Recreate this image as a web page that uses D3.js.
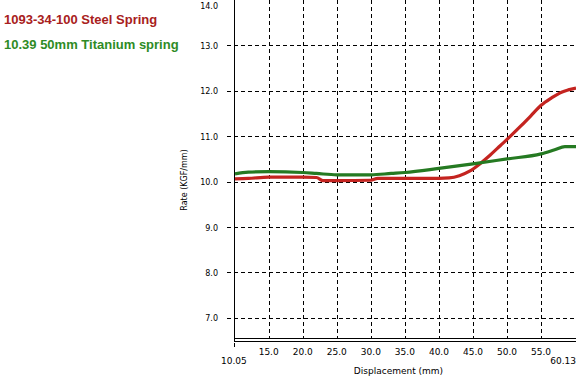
<!DOCTYPE html>
<html>
<head>
<meta charset="utf-8">
<script src="https://cdn.jsdelivr.net/npm/d3@7"></script>
<style>
  body { margin: 0; background: #fff; }
  svg { display: block; }
</style>
</head>
<body>
<div id="chart"></div>
<script>
// series values (displacement mm, rate KGF/mm)
const steelX = [10.05, 12, 15, 20, 22, 23, 25, 30, 31, 35, 40, 41.5, 43, 44.5, 46, 47.5, 49, 50.5, 52, 53.5, 55, 56.5, 58, 59, 60.13];
const steelY = [10.06, 10.07, 10.1, 10.1, 10.09, 10.02, 10.02, 10.03, 10.07, 10.07, 10.07, 10.08, 10.13, 10.23, 10.39, 10.58, 10.79, 11.0, 11.22, 11.45, 11.68, 11.84, 11.97, 12.02, 12.06];
const titanX = [10.05, 12, 15, 20, 22, 25, 30, 33, 35, 40, 45, 50, 55, 57, 58.5, 60.13];
const titanY = [10.17, 10.21, 10.22, 10.2, 10.18, 10.15, 10.15, 10.18, 10.2, 10.29, 10.39, 10.5, 10.61, 10.7, 10.77, 10.77];
const seriesNames = ['1093-34-100 Steel Spring', '10.39 50mm Titanium spring'];
const xTicks = [15, 20, 25, 30, 35, 40, 45, 50, 55];
const xEnds = [10.05, 60.13];
const yTicks = [7, 8, 9, 10, 11, 12, 13, 14];

const W = 576, H = 383;
const x = d3.scaleLinear().domain([10.05, 60.13]).range([235, 576]);
const y = d3.scaleLinear().domain([6.5, 14]).range([340.5, 0]);

const svg = d3.select('#chart').append('svg')
  .attr('width', W).attr('height', H)
  .style('font-family', '"DejaVu Sans", Verdana, sans-serif');

// grid, dashed
svg.append('g').selectAll('line')
  .data(yTicks.filter(d => d < 14))
  .join('line')
    .attr('x1', 227).attr('x2', W)
    .attr('y1', d => Math.round(y(d)) + 0.5).attr('y2', d => Math.round(y(d)) + 0.5)
    .attr('stroke', '#000').attr('stroke-dasharray', '4,3');
svg.append('g').selectAll('line')
  .data(xTicks)
  .join('line')
    .attr('x1', d => Math.round(x(d)) + 0.5).attr('x2', d => Math.round(x(d)) + 0.5)
    .attr('y1', 0).attr('y2', 338)
    .attr('stroke', '#000').attr('stroke-dasharray', '4,3');

// axes lines
svg.append('line').attr('x1', 234.5).attr('x2', 234.5).attr('y1', 0).attr('y2', 341)
  .attr('stroke', '#000');
svg.append('line').attr('x1', 234).attr('x2', W).attr('y1', 338.5).attr('y2', 338.5).attr('stroke', '#000');
svg.append('line').attr('x1', 234).attr('x2', W).attr('y1', 341.5).attr('y2', 341.5).attr('stroke', '#000');
svg.append('line').attr('x1', 234.5).attr('x2', 234.5).attr('y1', 343).attr('y2', 347).attr('stroke', '#000');

// y tick labels
svg.append('g').selectAll('text')
  .data(yTicks)
  .join('text')
    .attr('x', 218)
    .attr('y', d => d === 14 ? 9 : y(d) + 3.5)
    .attr('text-anchor', 'end')
    .style('font-size', '8px')
    .text(d => d3.format('.1f')(d));

// x tick labels
svg.append('g').selectAll('text')
  .data(xTicks)
  .join('text')
    .attr('x', d => x(d))
    .attr('y', 355)
    .attr('text-anchor', 'middle')
    .style('font-size', '9px')
    .text(d => d3.format('.1f')(d));
svg.append('g').selectAll('text')
  .data(xEnds)
  .join('text')
    .attr('x', (d, i) => i === 0 ? 221 : 576)
    .attr('y', 364)
    .attr('text-anchor', (d, i) => i === 0 ? 'start' : 'end')
    .style('font-size', '9px')
    .text(d => d3.format('.2f')(d));

// axis titles
svg.append('text')
  .attr('x', 398.5).attr('y', 374)
  .attr('text-anchor', 'middle')
  .style('font-size', '9px')
  .text('Displacement (mm)');
svg.append('text')
  .attr('transform', 'translate(187,180) rotate(-90)')
  .attr('text-anchor', 'middle')
  .style('font-size', '8px')
  .text('Rate (KGF/mm)');

// curves
const line = d3.line()
  .x(d => x(d[0]))
  .y(d => y(d[1]))
  .curve(d3.curveMonotoneX);

svg.append('path')
  .datum(d3.zip(steelX, steelY))
  .attr('fill', 'none')
  .attr('stroke', '#c42420')
  .attr('stroke-width', 3.2)
  .attr('d', line);
svg.append('path')
  .datum(d3.zip(titanX, titanY))
  .attr('fill', 'none')
  .attr('stroke', '#257a22')
  .attr('stroke-width', 3.2)
  .attr('d', line);

// legend
svg.append('g').selectAll('text')
  .data(seriesNames)
  .join('text')
    .attr('x', 4)
    .attr('y', (d, i) => 24 + i * 25)
    .attr('fill', (d, i) => i === 0 ? '#a82020' : '#2e8b25')
    .style('font-family', '"Liberation Sans", Arial, sans-serif')
    .style('font-weight', 'bold')
    .style('font-size', '13px')
    .text(d => d);
</script>
</body>
</html>
